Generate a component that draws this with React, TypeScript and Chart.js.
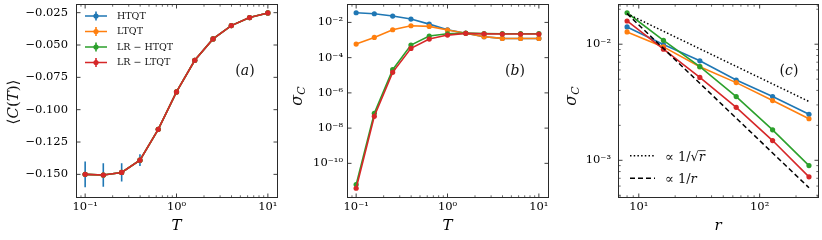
import React, { useEffect, useRef } from "react";
import { Chart, registerables } from "chart.js";
Chart.register(...registerables);

const W = 822;
const H = 240;
const PLOT_TOP = 4;
const PLOT_BOTTOM = 197;
const Y_AXIS_W = 60;
const SERIF = '"DejaVu Serif", "Liberation Serif", serif';
const INK = "#111111";
const FRAME = "#2a2a2a";

const C_BLUE = "#1f77b4";
const C_ORANGE = "#ff7f0e";
const C_GREEN = "#2ca02c";
const C_RED = "#d62728";
const seriesNames = ["HTQT", "LTQT", "LR − HTQT", "LR − LTQT"];
const seriesColors = [C_BLUE, C_ORANGE, C_GREEN, C_RED];

// ---------- panel (a): <C(T)> vs T ----------
const temperatures = [0.1, 0.158, 0.251, 0.398, 0.631, 1.0, 1.585, 2.512, 3.981, 6.31, 10];
const meanC_HTQT = [-0.15, -0.1505, -0.1485, -0.139, -0.1152, -0.0863, -0.0618, -0.0453, -0.035, -0.0288, -0.0252];
const meanC_LTQT = [-0.15, -0.1505, -0.1485, -0.139, -0.1152, -0.0863, -0.0618, -0.0453, -0.035, -0.0288, -0.0252];
const meanC_LR_HTQT = [-0.15, -0.1505, -0.1485, -0.139, -0.1152, -0.0863, -0.0618, -0.0453, -0.035, -0.0288, -0.0252];
const meanC_LR_LTQT = [-0.15, -0.1505, -0.1485, -0.139, -0.1152, -0.0863, -0.0618, -0.0453, -0.035, -0.0288, -0.0252];
const meanCErr_HTQT = [0.01, 0.009, 0.007, 0.0045, 0.0015, 0.001, 0, 0, 0, 0, 0];

// ---------- panel (b): sigma_C vs T ----------
const sigmaT_HTQT = [0.0353, 0.031, 0.0229, 0.0155, 0.008, 0.00384, 0.0024, 0.00155, 0.00124, 0.00123, 0.00123];
const sigmaT_LTQT = [0.00059, 0.00141, 0.00384, 0.00647, 0.00593, 0.00367, 0.0024, 0.00155, 0.00124, 0.00123, 0.00123];
const sigmaT_LR_HTQT = [6.2e-12, 6.9e-8, 2.07e-5, 5.19e-4, 0.00168, 0.00228, 0.00248, 0.00234, 0.00229, 0.00229, 0.00229];
const sigmaT_LR_LTQT = [3.85e-12, 4.68e-8, 1.46e-5, 3.36e-4, 0.00114, 0.00191, 0.0024, 0.00224, 0.00219, 0.00219, 0.00219];

// ---------- panel (c): sigma_C vs r ----------
const rValues = [8, 16, 32, 64, 128, 256];
const sigmaR_HTQT = [0.01409, 0.00993, 0.00719, 0.00491, 0.00354, 0.00249];
const sigmaR_LTQT = [0.01276, 0.00948, 0.0064, 0.00467, 0.00327, 0.00228];
const sigmaR_LR_HTQT = [0.01866, 0.01081, 0.0064, 0.00354, 0.00183, 0.0009];
const sigmaR_LR_LTQT = [0.01585, 0.00906, 0.00518, 0.00286, 0.00148, 0.00072];
const refR = [8, 256];
const refInvSqrtR = [0.01832, 0.00321];
const refInvR = [0.01832, 0.00058];

// ---------- ticks ----------
const tTicks = [0.1, 1, 10];
const tTickLabels = ["10⁻¹", "10⁰", "10¹"];
const tMinor = [0.08, 0.09, 0.2, 0.3, 0.4, 0.5, 0.6, 0.7, 0.8, 0.9, 2, 3, 4, 5, 6, 7, 8, 9];
const cTicks = [-0.15, -0.125, -0.1, -0.075, -0.05, -0.025];
const cTickLabels = ["−0.150", "−0.125", "−0.100", "−0.075", "−0.050", "−0.025"];
const sigTTicks = [1e-10, 1e-8, 1e-6, 1e-4, 1e-2];
const sigTTickLabels = ["10⁻¹⁰", "10⁻⁸", "10⁻⁶", "10⁻⁴", "10⁻²"];
const rTicks = [10, 100];
const rTickLabels = ["10¹", "10²"];
const rMinor = [7, 8, 9, 20, 30, 40, 50, 60, 70, 80, 90, 200, 300];
const sigRTicks = [1e-3, 1e-2];
const sigRTickLabels = ["10⁻³", "10⁻²"];
const sigRMinor = [5e-4, 6e-4, 7e-4, 8e-4, 9e-4, 2e-3, 3e-3, 4e-3, 5e-3, 6e-3, 7e-3, 8e-3, 9e-3, 2e-2];

type Piece = { t: string; it?: boolean; s: number; dy?: number; bar?: boolean };

function pieceFont(p: Piece) {
  return `${p.it ? "italic " : ""}${p.s}px ${SERIF}`;
}

function drawPieces(ctx: CanvasRenderingContext2D, pieces: Piece[], x: number, baseline: number, align: "left" | "center") {
  const widths = pieces.map((p) => {
    ctx.font = pieceFont(p);
    return ctx.measureText(p.t).width;
  });
  const total = widths.reduce((a, b) => a + b, 0);
  let cx = align === "center" ? x - total / 2 : x;
  ctx.textBaseline = "alphabetic";
  ctx.textAlign = "left";
  pieces.forEach((p, i) => {
    ctx.font = pieceFont(p);
    ctx.fillText(p.t, cx, baseline + (p.dy ?? 0));
    if (p.bar) {
      ctx.save();
      ctx.lineWidth = 0.8;
      ctx.beginPath();
      const yb = baseline - p.s * 0.76;
      ctx.moveTo(cx - 0.5, yb);
      ctx.lineTo(cx + widths[i] + 0.5, yb);
      ctx.stroke();
      ctx.restore();
    }
    cx += widths[i];
  });
}

type Panel = {
  left: number;
  right: number;
  xMin: number;
  xMax: number;
  yMin: number;
  yMax: number;
  yType: "linear" | "logarithmic";
  xTicks: number[];
  xTickLabels: string[];
  xMinor: number[];
  yTicks: number[];
  yTickLabels: string[];
  yMinor: number[];
  yLabelPad: number;
  xTitle: string;
  datasets: any[];
  extra: (chart: any, ctx: CanvasRenderingContext2D) => void;
  before?: (chart: any, ctx: CanvasRenderingContext2D) => void;
};

function series(label: string, xs: number[], ys: number[], color: string, order: number) {
  return {
    label,
    data: xs.map((x, i) => ({ x, y: ys[i] })),
    borderColor: color,
    backgroundColor: color,
    pointBackgroundColor: color,
    borderWidth: 1.6,
    pointRadius: 2.6,
    pointBorderWidth: 0,
    tension: 0,
    order,
  };
}

function drawPanelLabel(ctx: CanvasRenderingContext2D, letter: string, cx: number, cy: number) {
  ctx.fillStyle = INK;
  drawPieces(
    ctx,
    [
      { t: "(", s: 14 },
      { t: letter, it: true, s: 14 },
      { t: ")", s: 14 },
    ],
    cx,
    cy + 5,
    "center"
  );
}

function drawRotated(ctx: CanvasRenderingContext2D, pieces: Piece[], cx: number, cy: number, size: number) {
  ctx.save();
  ctx.translate(cx, cy);
  ctx.rotate(-Math.PI / 2);
  ctx.fillStyle = INK;
  drawPieces(ctx, pieces, 0, size * 0.36, "center");
  ctx.restore();
}

function drawSigmaTitle(ctx: CanvasRenderingContext2D, cx: number, cy: number) {
  drawRotated(
    ctx,
    [
      { t: "σ", it: true, s: 16 },
      { t: "C", it: true, s: 11, dy: 3 },
    ],
    cx,
    cy,
    16
  );
}

function makePlugin(p: Panel) {
  return {
    id: "decor",
    beforeDatasetsDraw(chart: any) {
      if (p.before) {
        const ctx = chart.ctx as CanvasRenderingContext2D;
        ctx.save();
        p.before(chart, ctx);
        ctx.restore();
      }
    },
    afterDatasetsDraw(chart: any) {
      const ctx = chart.ctx as CanvasRenderingContext2D;
      const { left, right, top, bottom } = chart.chartArea;
      const xs = chart.scales.x;
      const ys = chart.scales.y;
      ctx.save();
      ctx.strokeStyle = FRAME;
      ctx.lineWidth = 1;
      const x0 = Math.floor(left) + 0.5;
      const x1 = Math.floor(right) + 0.5;
      const y0 = Math.floor(top) + 0.5;
      const y1 = Math.floor(bottom) + 0.5;
      ctx.strokeRect(x0, y0, x1 - x0, y1 - y0);
      const tick = (vals: number[], len: number, horiz: boolean) => {
        ctx.beginPath();
        vals.forEach((v) => {
          if (horiz) {
            const px = xs.getPixelForValue(v);
            if (px < left + 0.5 || px > right - 0.5) return;
            ctx.moveTo(px, y1);
            ctx.lineTo(px, y1 - len);
            ctx.moveTo(px, y0);
            ctx.lineTo(px, y0 + len);
          } else {
            const py = ys.getPixelForValue(v);
            if (py < top + 0.5 || py > bottom - 0.5) return;
            ctx.moveTo(x0, py);
            ctx.lineTo(x0 + len, py);
            ctx.moveTo(x1, py);
            ctx.lineTo(x1 - len, py);
          }
        });
        ctx.stroke();
      };
      ctx.lineWidth = 0.9;
      tick(p.xTicks, 4, true);
      tick(p.yTicks, 4, false);
      ctx.lineWidth = 0.7;
      tick(p.xMinor, 2.2, true);
      tick(p.yMinor, 2.2, false);
      p.extra(chart, ctx);
      ctx.restore();
    },
  };
}

function buildOptions(p: Panel) {
  const tickFont = { family: SERIF, size: 11.5 };
  return {
    responsive: false,
    maintainAspectRatio: false,
    animation: false,
    events: [],
    layout: { padding: { left: p.left - Y_AXIS_W, right: W - p.right, top: PLOT_TOP, bottom: 0 } },
    plugins: { legend: { display: false }, tooltip: { enabled: false }, title: { display: false } },
    scales: {
      x: {
        type: "logarithmic",
        position: "bottom",
        min: p.xMin,
        max: p.xMax,
        grid: { display: false, drawTicks: false },
        border: { display: false },
        ticks: {
          autoSkip: false,
          maxRotation: 0,
          minRotation: 0,
          padding: 3,
          color: "#000",
          font: tickFont,
          callback: (_v: any, i: number) => p.xTickLabels[i],
        },
        title: {
          display: true,
          text: p.xTitle,
          color: "#000",
          font: { family: SERIF, size: 15, style: "italic" },
          padding: { top: 0, bottom: 5 },
        },
        afterBuildTicks: (s: any) => {
          s.ticks = p.xTicks.map((value) => ({ value }));
        },
        afterFit: (s: any) => {
          s.height = H - PLOT_BOTTOM;
          s.paddingLeft = 0;
          s.paddingRight = 0;
        },
      },
      y: {
        type: p.yType,
        position: "left",
        min: p.yMin,
        max: p.yMax,
        grid: { display: false, drawTicks: false },
        border: { display: false },
        ticks: {
          autoSkip: false,
          padding: p.yLabelPad,
          color: "#000",
          font: tickFont,
          callback: (_v: any, i: number) => p.yTickLabels[i],
        },
        afterBuildTicks: (s: any) => {
          s.ticks = p.yTicks.map((value) => ({ value }));
        },
        afterFit: (s: any) => {
          s.width = Y_AXIS_W;
          s.paddingTop = 0;
          s.paddingBottom = 0;
        },
      },
    },
  };
}

const panelA: Panel = {
  left: 76,
  right: 277,
  xMin: 0.0794,
  xMax: 12.59,
  yMin: -0.1675,
  yMax: -0.0183,
  yType: "linear",
  xTicks: tTicks,
  xTickLabels: tTickLabels,
  xMinor: tMinor,
  yTicks: cTicks,
  yTickLabels: cTickLabels,
  yMinor: [],
  yLabelPad: 8,
  xTitle: "T",
  datasets: [
    series(seriesNames[0], temperatures, meanC_HTQT, C_BLUE, 3),
    series(seriesNames[1], temperatures, meanC_LTQT, C_ORANGE, 2),
    series(seriesNames[2], temperatures, meanC_LR_HTQT, C_GREEN, 1),
    series(seriesNames[3], temperatures, meanC_LR_LTQT, C_RED, 0),
  ],
  before: (chart, ctx) => {
    const xs = chart.scales.x;
    const ys = chart.scales.y;
    ctx.strokeStyle = C_BLUE;
    ctx.lineWidth = 1.6;
    ctx.beginPath();
    temperatures.forEach((t, i) => {
      const e = meanCErr_HTQT[i];
      if (!e) return;
      const px = xs.getPixelForValue(t);
      ctx.moveTo(px, ys.getPixelForValue(meanC_HTQT[i] - e));
      ctx.lineTo(px, ys.getPixelForValue(meanC_HTQT[i] + e));
    });
    ctx.stroke();
  },
  extra: (chart, ctx) => {
    // legend
    seriesNames.forEach((name, i) => {
      const y = 16 + i * 15.5;
      const c = seriesColors[i];
      ctx.strokeStyle = c;
      ctx.fillStyle = c;
      ctx.lineWidth = 1.6;
      ctx.beginPath();
      ctx.moveTo(85, y);
      ctx.lineTo(107, y);
      ctx.moveTo(96, y - 4.6);
      ctx.lineTo(96, y + 4.6);
      ctx.stroke();
      ctx.beginPath();
      ctx.arc(96, y, 2.6, 0, Math.PI * 2);
      ctx.fill();
      ctx.fillStyle = INK;
      ctx.font = `9.5px ${SERIF}`;
      ctx.textAlign = "left";
      ctx.textBaseline = "middle";
      ctx.fillText(name, 117, y + 0.5);
    });
    drawPanelLabel(ctx, "a", 245, 70);
    drawRotated(
      ctx,
      [
        { t: "⟨", s: 15 },
        { t: "C", it: true, s: 15 },
        { t: "(", s: 15 },
        { t: "T", it: true, s: 15 },
        { t: ")", s: 15 },
        { t: "⟩", s: 15 },
      ],
      13,
      102,
      15
    );
  },
};

const panelB: Panel = {
  left: 347,
  right: 548,
  xMin: 0.0794,
  xMax: 12.59,
  yMin: 1.23e-12,
  yMax: 0.111,
  yType: "logarithmic",
  xTicks: tTicks,
  xTickLabels: tTickLabels,
  xMinor: tMinor,
  yTicks: sigTTicks,
  yTickLabels: sigTTickLabels,
  yMinor: [],
  yLabelPad: 4,
  xTitle: "T",
  datasets: [
    series(seriesNames[0], temperatures, sigmaT_HTQT, C_BLUE, 3),
    series(seriesNames[1], temperatures, sigmaT_LTQT, C_ORANGE, 2),
    series(seriesNames[2], temperatures, sigmaT_LR_HTQT, C_GREEN, 1),
    series(seriesNames[3], temperatures, sigmaT_LR_LTQT, C_RED, 0),
  ],
  extra: (chart, ctx) => {
    drawPanelLabel(ctx, "b", 515, 70);
    drawSigmaTitle(ctx, 296, 96);
  },
};

const panelC: Panel = {
  left: 618,
  right: 819,
  xMin: 6.73,
  xMax: 304,
  yMin: 4.83e-4,
  yMax: 0.0222,
  yType: "logarithmic",
  xTicks: rTicks,
  xTickLabels: rTickLabels,
  xMinor: rMinor,
  yTicks: sigRTicks,
  yTickLabels: sigRTickLabels,
  yMinor: sigRMinor,
  yLabelPad: 7,
  xTitle: "r",
  datasets: [
    series(seriesNames[0], rValues, sigmaR_HTQT, C_BLUE, 5),
    series(seriesNames[1], rValues, sigmaR_LTQT, C_ORANGE, 4),
    series(seriesNames[2], rValues, sigmaR_LR_HTQT, C_GREEN, 3),
    series(seriesNames[3], rValues, sigmaR_LR_LTQT, C_RED, 2),
    {
      label: "∝ 1/√r",
      data: refR.map((x, i) => ({ x, y: refInvSqrtR[i] })),
      borderColor: "#000",
      borderWidth: 1.5,
      borderDash: [1.5, 2.2],
      pointRadius: 0,
      order: 1,
    },
    {
      label: "∝ 1/r",
      data: refR.map((x, i) => ({ x, y: refInvR[i] })),
      borderColor: "#000",
      borderWidth: 1.5,
      borderDash: [5, 3],
      pointRadius: 0,
      order: 0,
    },
  ],
  extra: (chart, ctx) => {
    ctx.strokeStyle = "#000";
    ctx.lineWidth = 1.5;
    ctx.setLineDash([1.5, 2.2]);
    ctx.beginPath();
    ctx.moveTo(630, 155.7);
    ctx.lineTo(655, 155.7);
    ctx.stroke();
    ctx.setLineDash([5, 3]);
    ctx.beginPath();
    ctx.moveTo(630, 178.3);
    ctx.lineTo(655, 178.3);
    ctx.stroke();
    ctx.setLineDash([]);
    ctx.fillStyle = INK;
    ctx.strokeStyle = INK;
    drawPieces(
      ctx,
      [
        { t: "∝ 1/√", s: 13 },
        { t: "r", it: true, s: 13, bar: true },
      ],
      665,
      160.5,
      "left"
    );
    drawPieces(
      ctx,
      [
        { t: "∝ 1/", s: 13 },
        { t: "r", it: true, s: 13 },
      ],
      665,
      183,
      "left"
    );
    drawPanelLabel(ctx, "c", 789, 70);
    drawSigmaTitle(ctx, 570, 96);
  },
};

function PanelChart({ cfg }: { cfg: Panel }) {
  const ref = useRef<HTMLCanvasElement>(null);
  useEffect(() => {
    if (!ref.current) return;
    const chart = new Chart(ref.current, {
      type: "line",
      data: { datasets: cfg.datasets },
      options: buildOptions(cfg) as any,
      plugins: [makePlugin(cfg) as any],
    });
    return () => chart.destroy();
  }, [cfg]);
  return (
    <canvas
      ref={ref}
      width={W}
      height={H}
      style={{ position: "absolute", left: 0, top: 0, width: W, height: H }}
    />
  );
}

export default function App() {
  return (
    <div style={{ position: "fixed", left: 0, top: 0, width: W, height: H, background: "#fff", overflow: "hidden" }}>
      <PanelChart cfg={panelA} />
      <PanelChart cfg={panelB} />
      <PanelChart cfg={panelC} />
    </div>
  );
}
